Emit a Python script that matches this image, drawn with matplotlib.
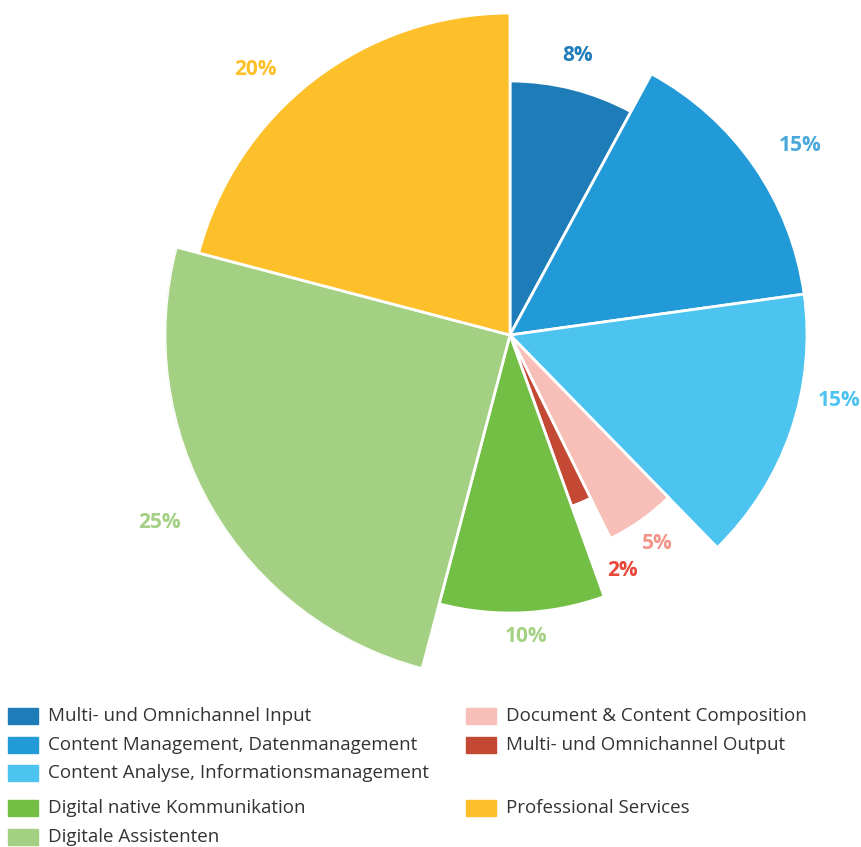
import numpy as np
import matplotlib.pyplot as plt
from matplotlib.patches import Rectangle

# slice shares (angle, percent of circle) and slice reach (radius, px-like units)
categories = [
    "Multi- und Omnichannel Input",
    "Content Management, Datenmanagement",
    "Content Analyse, Informationsmanagement",
    "Document & Content Composition",
    "Multi- und Omnichannel Output",
    "Digital native Kommunikation",
    "Digitale Assistenten",
    "Professional Services",
]
shares = [7.9, 14.9, 14.9, 5.0, 1.8, 9.6, 25.0, 20.9]
reach = [254, 297, 297, 227, 182, 278, 345, 322]
pct_labels = ["8%", "15%", "15%", "5%", "2%", "10%", "25%", "20%"]

colors = ["#1E7DB8", "#229AD8", "#4DC4F0", "#F8BFB8", "#C34935",
          "#73BE45", "#A3D082", "#FDC02A"]
label_colors = ["#1E7DB8", "#4AA8DB", "#4DC4F0", "#F29489", "#E8473A",
                "#A3D082", "#A3D082", "#FDC02A"]
# label placement: angle shift (deg) from slice middle, distance beyond slice edge
label_dtheta = [-0.6, 1.6, -7.6, 0.1, -2.6, -0.5, 2.1, -6.2]
label_pad = [34, 50, 39, 28, 79, 24, 52, 46]

# legend layout: (column, row) for each category
legend_col = [0, 0, 0, 1, 1, 0, 0, 1]
legend_row = [0, 1, 2, 0, 1, 3, 4, 3]

W, H = 861, 847
fig = plt.figure(figsize=(W / 100, H / 100), dpi=100)

cx, cy, R = 510, 335, 345
ax = fig.add_axes([(cx - R) / W, 1 - (cy + R) / H, 2 * R / W, 2 * R / H],
                  projection="polar")
ax.set_theta_zero_location("N")
ax.set_theta_direction(-1)

widths = np.deg2rad(np.array(shares) * 3.6)
starts = np.concatenate([[0], np.cumsum(widths)[:-1]])
ax.bar(starts, reach, width=widths, bottom=0, align="edge",
       color=colors, edgecolor="white", linewidth=2)

for s, w, r, lab, c, dt, pad in zip(starts, widths, reach, pct_labels,
                                    label_colors, label_dtheta, label_pad):
    ax.text(s + w / 2 + np.deg2rad(dt), r + pad, lab, color=c,
            fontsize=15, fontweight="bold", family="Open Sans",
            ha="center", va="center")

ax.set_ylim(0, R)
ax.set_axis_off()

# legend
row_y = [716, 745, 773, 808, 837]
col_x = [8, 466]
for name, c, col, row in zip(categories, colors, legend_col, legend_row):
    x0, yc = col_x[col], row_y[row]
    fig.patches.append(Rectangle((x0 / W, 1 - (yc + 8) / H), 30 / W, 16 / H,
                                 transform=fig.transFigure, color=c))
    fig.text((x0 + 40) / W, 1 - yc / H, name, fontsize=13.5,
             family="Open Sans", color="#333333", va="center", ha="left")

fig.savefig("out.png", dpi=100)
